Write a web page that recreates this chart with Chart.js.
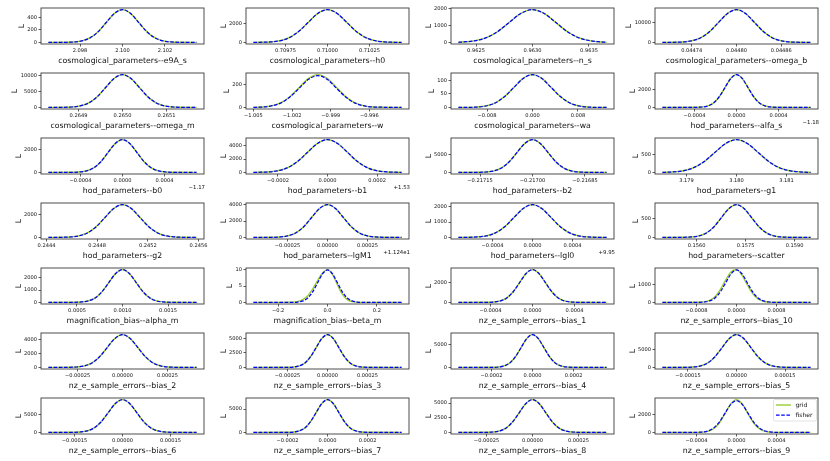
<!DOCTYPE html>
<html>
<head>
<meta charset="utf-8">
<script src="https://cdn.jsdelivr.net/npm/chart.js@4.4.1/dist/chart.umd.min.js"></script>
<style>
  html, body { margin: 0; padding: 0; background: #fff; }
  #page { position: relative; width: 830px; height: 461px; overflow: hidden; }
  .panel { position: absolute; }
</style>
</head>
<body>
<div id="page"></div>
<script>
// one subplot per parameter, filled row by row
const names = [
  "cosmological_parameters--e9A_s", "cosmological_parameters--h0", "cosmological_parameters--n_s", "cosmological_parameters--omega_b",
  "cosmological_parameters--omega_m", "cosmological_parameters--w", "cosmological_parameters--wa", "hod_parameters--alfa_s",
  "hod_parameters--b0", "hod_parameters--b1", "hod_parameters--b2", "hod_parameters--g1",
  "hod_parameters--g2", "hod_parameters--lgM1", "hod_parameters--lgl0", "hod_parameters--scatter",
  "magnification_bias--alpha_m", "magnification_bias--beta_m", "nz_e_sample_errors--bias_1", "nz_e_sample_errors--bias_10",
  "nz_e_sample_errors--bias_2", "nz_e_sample_errors--bias_3", "nz_e_sample_errors--bias_4", "nz_e_sample_errors--bias_5",
  "nz_e_sample_errors--bias_6", "nz_e_sample_errors--bias_7", "nz_e_sample_errors--bias_8", "nz_e_sample_errors--bias_9"
];

// peak position, grid ends and gaussian width
const centres = [2.1, 0.71, 0.963, 0.0448, 0.265, -1.0, 0, 0, 0, 0, -0.217, 3.18, 0.245, 0, 0, 0.15722,
  0.001, 0, 0, 0, 0, 0, 0, 0, 0, 0, 0, 0];
const lows = [2.09651, 0.709559, 0.962344, 0.0447008, 0.2648316, -1.005, -0.01303, -0.000706,
  -0.000706, -0.000299, -0.2172117, 3.178518, 0.244415, -0.000463, -0.000741, 0.154952,
  0.000186, -0.3, -0.000706, -0.001482, -0.000412, -0.000463, -0.000361, -0.000229,
  -0.0002315, -0.00037, -0.000403, -0.000741];
const highs = [2.10349, 0.710441, 0.963656, 0.0448992, 0.2651684, -0.9935, 0.01303, 0.000706,
  0.000706, 0.000299, -0.2167883, 3.181482, 0.245585, 0.000463, 0.000741, 0.159488,
  0.001814, 0.3, 0.000706, 0.001482, 0.000412, 0.000463, 0.000361, 0.000229,
  0.0002315, 0.00037, 0.000403, 0.000741];
const widths = [0.000767, 0.0001156, 0.0002067, 0.00002418, 0.00003836, 0.001445, 0.0033, 0.0001093,
  0.0001376, 0.0000814, 0.0000443, 0.000434, 0.0001385, 0.0000992, 0.0001855, 0.000459,
  0.00015, 0.04, 0.0001224, 0.0002156, 0.0000849, 0.0000706, 0.0000554, 0.0000443,
  0.0000443, 0.0000566, 0.0000715, 0.0001146];
// sample offsets (in widths) where the curve heights below were read
const steps = [-3.5, -3, -2.5, -2, -1.5, -1, -0.5, 0, 0.5, 1, 1.5, 2, 2.5, 3, 3.5];

// fisher curve heights at those samples
const fisherL = [
  [1, 6, 23, 70, 169, 315, 459, 520, 459, 315, 169, 70, 23, 6, 1],
  [8, 38, 151, 467, 1120, 2092, 3045, 3450, 3045, 2092, 1120, 467, 151, 38, 8],
  [4, 21, 85, 261, 627, 1171, 1703, 1930, 1703, 1171, 627, 261, 85, 21, 4],
  [36, 183, 724, 2232, 5358, 10007, 14561, 16500, 14561, 10007, 5358, 2232, 724, 183, 36],
  [23, 115, 457, 1407, 3377, 6308, 9178, 10400, 9178, 6308, 3377, 1407, 457, 115, 23],
  [1, 3, 12, 37, 90, 167, 244, 276, 244, 167, 90, 37, 12, 3, 1],
  [0, 1, 5, 16, 39, 73, 107, 121, 107, 73, 39, 16, 5, 1, 0],
  [8, 41, 160, 494, 1185, 2214, 3221, 3650, 3221, 2214, 1185, 494, 160, 41, 8],
  [6, 32, 127, 392, 942, 1759, 2559, 2900, 2559, 1759, 942, 392, 127, 32, 6],
  [11, 54, 215, 663, 1591, 2972, 4324, 4900, 4324, 2972, 1591, 663, 215, 54, 11],
  [20, 100, 395, 1218, 2922, 5459, 7943, 9000, 7943, 5459, 2922, 1218, 395, 100, 20],
  [2, 10, 40, 124, 299, 558, 812, 920, 812, 558, 299, 124, 40, 10, 2],
  [6, 32, 126, 390, 935, 1747, 2542, 2880, 2542, 1747, 935, 390, 126, 32, 6],
  [9, 45, 176, 544, 1305, 2438, 3548, 4020, 3548, 2438, 1305, 544, 176, 45, 9],
  [5, 24, 94, 291, 698, 1304, 1897, 2150, 1897, 1304, 698, 291, 94, 24, 5],
  [2, 10, 38, 118, 282, 528, 768, 870, 768, 528, 282, 118, 38, 10, 2],
  [6, 30, 117, 360, 864, 1613, 2347, 2660, 2347, 1613, 864, 360, 117, 30, 6],
  [0.02, 0.11, 0.44, 1.35, 3.25, 6.07, 8.83, 10, 8.83, 6.07, 3.25, 1.35, 0.44, 0.11, 0.02],
  [7, 36, 143, 441, 1059, 1977, 2877, 3260, 2877, 1977, 1059, 441, 143, 36, 7],
  [4, 21, 81, 250, 601, 1122, 1633, 1850, 1633, 1122, 601, 250, 81, 21, 4],
  [10, 52, 206, 636, 1526, 2851, 4148, 4700, 4148, 2851, 1526, 636, 206, 52, 10],
  [12, 63, 248, 764, 1835, 3427, 4986, 5650, 4986, 3427, 1835, 764, 248, 63, 12],
  [16, 80, 316, 974, 2338, 4367, 6354, 7200, 6354, 4367, 2338, 974, 316, 80, 16],
  [20, 100, 395, 1218, 2922, 5459, 7943, 9000, 7943, 5459, 2922, 1218, 395, 100, 20],
  [20, 100, 395, 1218, 2922, 5459, 7943, 9000, 7943, 5459, 2922, 1218, 395, 100, 20],
  [16, 78, 309, 954, 2289, 4276, 6222, 7050, 6222, 4276, 2289, 954, 309, 78, 16],
  [12, 62, 245, 755, 1812, 3384, 4924, 5580, 4924, 3384, 1812, 755, 245, 62, 12],
  [8, 39, 153, 471, 1130, 2111, 3071, 3480, 3071, 2111, 1130, 471, 153, 39, 8]
];
// grid curve only separates from fisher in a few panels
const gridW = [1, 3, 13, 39, 93, 173, 252, 285, 252, 173, 93, 39, 13, 3, 1];
const gridBetaM = [0.08, 0.29, 0.85, 2.06, 4.11, 6.74, 9.06, 10.1, 8.66, 5.45, 2.52, 0.86, 0.21, 0.04, 0];
const gridBias10 = [6, 30, 111, 321, 726, 1277, 1749, 1867, 1551, 1004, 506, 199, 61, 14, 3];
const gridBias9 = [4, 24, 113, 392, 1035, 2069, 3135, 3600, 3135, 2069, 1035, 392, 113, 24, 4];
const gridL = fisherL.slice();
gridL[5] = gridW;
gridL[17] = gridBetaM;
gridL[19] = gridBias10;
gridL[27] = gridBias9;

// tick values and labels
const xTicks = [
  [2.098, 2.1, 2.102], [0.70975, 0.71, 0.71025], [0.9625, 0.963, 0.9635], [0.04474, 0.0448, 0.04486],
  [0.2649, 0.265, 0.2651], [-1.005, -1.002, -0.999, -0.996], [-0.008, 0, 0.008], [-0.0004, 0, 0.0004],
  [-0.0004, 0, 0.0004], [-0.0002, 0, 0.0002], [-0.21715, -0.217, -0.21685], [3.179, 3.18, 3.181],
  [0.2444, 0.2448, 0.2452, 0.2456], [-0.00025, 0, 0.00025], [-0.0004, 0, 0.0004], [0.156, 0.1575, 0.159],
  [0.0005, 0.001, 0.0015], [-0.2, 0, 0.2], [-0.0004, 0, 0.0004], [-0.0008, 0, 0.0008],
  [-0.00025, 0, 0.00025], [-0.00025, 0, 0.00025], [-0.0002, 0, 0.0002], [-0.00015, 0, 0.00015],
  [-0.00015, 0, 0.00015], [-0.0002, 0, 0.0002], [-0.00025, 0, 0.00025], [-0.0004, 0, 0.0004]
];
const xLabels = [
  ["2.098", "2.100", "2.102"], ["0.70975", "0.71000", "0.71025"], ["0.9625", "0.9630", "0.9635"], ["0.04474", "0.04480", "0.04486"],
  ["0.2649", "0.2650", "0.2651"], ["\u22121.005", "\u22121.002", "\u22120.999", "\u22120.996"], ["\u22120.008", "0.000", "0.008"], ["\u22120.0004", "0.0000", "0.0004"],
  ["\u22120.0004", "0.0000", "0.0004"], ["\u22120.0002", "0.0000", "0.0002"], ["\u22120.21715", "\u22120.21700", "\u22120.21685"], ["3.179", "3.180", "3.181"],
  ["0.2444", "0.2448", "0.2452", "0.2456"], ["\u22120.00025", "0.00000", "0.00025"], ["\u22120.0004", "0.0000", "0.0004"], ["0.1560", "0.1575", "0.1590"],
  ["0.0005", "0.0010", "0.0015"], ["\u22120.2", "0.0", "0.2"], ["\u22120.0004", "0.0000", "0.0004"], ["\u22120.0008", "0.0000", "0.0008"],
  ["\u22120.00025", "0.00000", "0.00025"], ["\u22120.00025", "0.00000", "0.00025"], ["\u22120.0002", "0.0000", "0.0002"], ["\u22120.00015", "0.00000", "0.00015"],
  ["\u22120.00015", "0.00000", "0.00015"], ["\u22120.0002", "0.0000", "0.0002"], ["\u22120.00025", "0.00000", "0.00025"], ["\u22120.0004", "0.0000", "0.0004"]
];
const yTicks = [
  [0, 200, 400], [0, 2000], [0, 1000, 2000], [0, 10000],
  [0, 5000, 10000], [0, 200], [0, 50, 100], [0, 2000],
  [0, 2000], [0, 2000, 4000], [0, 5000], [0, 500],
  [0, 2000], [0, 2000, 4000], [0, 1000, 2000], [0, 500],
  [0, 1000, 2000], [0, 5, 10], [0, 2000], [0, 1000],
  [0, 2000, 4000], [0, 2500, 5000], [0, 5000], [0, 5000],
  [0, 5000], [0, 5000], [0, 2500, 5000], [0, 2000]
];
const offsets = ["", "", "", "", "", "", "", "\u22121.18", "\u22121.17", "+1.53", "", "", "", "+1.124e1", "+9.95", "",
  "", "", "", "", "", "", "", "", "", "", "", ""];
const seriesNames = ["grid", "fisher"];

// page layout
const COL_X = [41, 246, 451, 655];
const ROW_Y = [8, 73, 138, 203, 268, 333, 398];
const PW = 163, PH = 36;
const YW = 41, TOP_PAD = 4, RIGHT_PAD = 14, XH = 22;
const TICK_PX = 5.1, LABEL_PX = 7.8;
const FONT = '"DejaVu Sans", sans-serif';

Chart.defaults.font.family = FONT;
Chart.defaults.color = "#111";

const decor = {
  id: "decor",
  afterDraw(chart, args, opts) {
    const { ctx, chartArea: a, scales: { y } } = chart;
    ctx.save();
    ctx.strokeStyle = "#3a3a3a";
    ctx.lineWidth = 0.9;
    ctx.strokeRect(a.left, a.top, a.right - a.left, a.bottom - a.top);
    ctx.fillStyle = "#111";
    ctx.font = TICK_PX + "px " + FONT;
    const w = Math.max(...y.ticks.map((t) => ctx.measureText(String(t.label)).width));
    // offset text under the right end of the x axis
    if (opts.offset) {
      ctx.font = "5.4px " + FONT;
      ctx.textAlign = "right";
      ctx.textBaseline = "middle";
      ctx.fillText(opts.offset, a.right + 1, a.bottom + 13.5);
    }
    // legend box
    if (opts.legend) {
      ctx.font = "6px " + FONT;
      const bx = a.right - 44.5, by = a.top + 1.5, bw = 43, bh = 21.5;
      ctx.fillStyle = "rgba(255,255,255,0.85)";
      ctx.strokeStyle = "#d0d0d0";
      ctx.lineWidth = 0.6;
      ctx.beginPath();
      ctx.roundRect(bx, by, bw, bh, 1.5);
      ctx.fill();
      ctx.stroke();
      chart.data.datasets.forEach((ds, k) => {
        const ly = by + 5.5 + k * 10.2;
        ctx.strokeStyle = ds.borderColor;
        ctx.lineWidth = ds.borderWidth;
        ctx.setLineDash(ds.borderDash || []);
        ctx.beginPath();
        ctx.moveTo(bx + 2.5, ly);
        ctx.lineTo(bx + 17.5, ly);
        ctx.stroke();
        ctx.setLineDash([]);
        ctx.fillStyle = "#111";
        ctx.textAlign = "left";
        ctx.textBaseline = "middle";
        ctx.fillText(ds.label, bx + 22, ly);
      });
    }
    // y label next to the widest tick label
    ctx.font = LABEL_PX + "px " + FONT;
    ctx.fillStyle = "#111";
    ctx.translate(a.left - 4.5 - w - 5, (a.top + a.bottom) / 2);
    ctx.rotate(-Math.PI / 2);
    ctx.textAlign = "center";
    ctx.textBaseline = "middle";
    ctx.fillText("L", 0, 0);
    ctx.restore();
  }
};

function series(i, vals) {
  const pts = [{ x: lows[i], y: 0 }];
  steps.forEach((k, j) => {
    const x = centres[i] + k * widths[i];
    if (x > lows[i] && x < highs[i]) pts.push({ x: x, y: vals[j] });
  });
  pts.push({ x: highs[i], y: 0 });
  return pts;
}

const page = document.getElementById("page");
names.forEach((name, i) => {
  const col = i % 4;
  const row = Math.floor(i / 4);
  const box = document.createElement("div");
  box.className = "panel";
  box.style.left = COL_X[col] - YW + "px";
  box.style.top = ROW_Y[row] - TOP_PAD + "px";
  const cw = YW + PW + RIGHT_PAD;
  const ch = TOP_PAD + PH + XH;
  box.style.width = cw + "px";
  box.style.height = ch + "px";
  const cv = document.createElement("canvas");
  cv.width = cw;
  cv.height = ch;
  cv.style.width = cw + "px";
  cv.style.height = ch + "px";
  box.appendChild(cv);
  page.appendChild(box);

  const span = highs[i] - lows[i];
  const peak = Math.max(...fisherL[i], ...gridL[i]);

  new Chart(cv, {
    type: "line",
    data: {
      datasets: [
        {
          label: seriesNames[0],
          data: series(i, gridL[i]),
          borderColor: "#9acd32",
          borderWidth: 1.4,
          pointRadius: 0,
          cubicInterpolationMode: "monotone",
          order: 1
        },
        {
          label: seriesNames[1],
          data: series(i, fisherL[i]),
          borderColor: "#0000ff",
          borderWidth: 1.25,
          borderDash: [3.6, 1.6],
          pointRadius: 0,
          cubicInterpolationMode: "monotone",
          order: 0
        }
      ]
    },
    options: {
      responsive: false,
      animation: false,
      events: [],
      layout: { padding: { top: TOP_PAD, right: RIGHT_PAD, left: 0, bottom: 0 } },
      plugins: {
        legend: { display: false },
        tooltip: { enabled: false },
        decor: { offset: offsets[i], legend: i === names.length - 1 }
      },
      scales: {
        x: {
          type: "linear",
          bounds: "data",
          min: lows[i] - 0.05 * span,
          max: highs[i] + 0.05 * span,
          afterBuildTicks: (axis) => { axis.ticks = xTicks[i].map((v) => ({ value: v })); },
          afterFit: (axis) => { axis.height = XH; axis.paddingLeft = 0; axis.paddingRight = 0; },
          grid: { drawOnChartArea: false, drawTicks: true, tickLength: 2.5, color: "#333", lineWidth: 0.8 },
          border: { display: false },
          ticks: {
            autoSkip: false, maxRotation: 0, padding: 1.3, color: "#111",
            font: { size: TICK_PX },
            callback: (v, idx) => xLabels[i][idx]
          },
          title: { display: true, text: name, color: "#111", font: { size: LABEL_PX }, padding: 0 }
        },
        y: {
          type: "linear",
          bounds: "data",
          min: -0.05 * peak,
          max: 1.05 * peak,
          afterBuildTicks: (axis) => { axis.ticks = yTicks[i].map((v) => ({ value: v })); },
          afterFit: (axis) => { axis.width = YW; axis.paddingTop = 0; axis.paddingBottom = 0; },
          grid: { drawOnChartArea: false, drawTicks: true, tickLength: 2.5, color: "#333", lineWidth: 0.8 },
          border: { display: false },
          ticks: {
            autoSkip: false, padding: 1.5, color: "#111",
            font: { size: TICK_PX },
            callback: (v) => String(v)
          }
        }
      }
    },
    plugins: [decor]
  });
});
</script>
</body>
</html>
